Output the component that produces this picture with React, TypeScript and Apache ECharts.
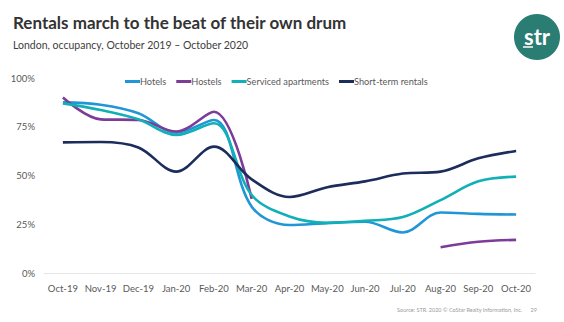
import React, { useEffect, useRef } from "react";
import * as echarts from "echarts";

const months = ["Oct-19", "Nov-19", "Dec-19", "Jan-20", "Feb-20", "Mar-20", "Apr-20", "May-20", "Jun-20", "Jul-20", "Aug-20", "Sep-20", "Oct-20"];
const hotels = [87.5, 86.3, 81.9, 72, 78.5, 34, 24.6, 25.6, 26.3, 20.8, 31, 30.3, 30];
const hostels: (number | null)[] = [90, 78.8, 78.5, 72.6, 82.7, 38, null, null, null, null, 13.2, 16, 17];
const serviced = [87, 83.6, 78.8, 70.8, 76.8, 40, 29, 25.8, 26.8, 28.7, 37.4, 47, 49.4];
const shortTerm = [67, 67.2, 64.4, 52, 64.8, 48, 39, 44, 47, 51, 52, 58.8, 62.6];
const yTicks = [0, 25, 50, 75, 100];

const FONT = "Lato, 'Open Sans', sans-serif";

export default function App() {
  const ref = useRef<HTMLDivElement>(null);
  useEffect(() => {
    if (!ref.current) return;
    const chart = echarts.init(ref.current, undefined, { renderer: "svg" });
    const mk = (name: string, data: (number | null)[], color: string) => ({
      name,
      type: "line",
      data,
      smooth: 0.35,
      showSymbol: false,
      symbol: "none",
      connectNulls: false,
      lineStyle: { color, width: 2.6 },
      itemStyle: { color },
    });
    chart.setOption({
      animation: false,
      backgroundColor: "#ffffff",
      textStyle: { fontFamily: FONT },
      title: {
        text: "Rentals march to the beat of their own drum",
        subtext: "London, occupancy, October 2019 \u2013 October 2020",
        left: 8,
        top: 9,
        itemGap: 8,
        textStyle: { fontFamily: FONT, fontSize: 17, fontWeight: "bold", color: "#333333" },
        subtextStyle: { fontFamily: FONT, fontSize: 10.5, color: "#404040" },
      },
      legend: {
        top: 72,
        left: 120,
        itemWidth: 15,
        itemHeight: 3,
        itemGap: 10,
        icon: "rect",
        textStyle: { fontFamily: FONT, fontSize: 9.2, color: "#595959", padding: [0, 0, 0, -5] },
        data: ["Hotels", "Hostels", "Serviced apartments", "Short-term rentals"],
      },
      grid: { left: 44, right: 29, top: 78, bottom: 49, containLabel: false },
      xAxis: {
        type: "category",
        data: months,
        boundaryGap: true,
        axisLine: { show: true, lineStyle: { color: "#e6e6e6", width: 1 } },
        axisTick: { show: false },
        axisLabel: { interval: 0, fontFamily: FONT, fontSize: 9.5, color: "#595959", margin: 10 },
      },
      yAxis: {
        type: "value",
        min: 0,
        max: 100,
        interval: 25,
        axisLine: { show: false },
        axisTick: { show: false },
        splitLine: { show: false },
        axisLabel: {
          fontFamily: FONT,
          fontSize: 9.5,
          color: "#595959",
          margin: 9,
          formatter: (v: number) => (yTicks.includes(v) ? v + "%" : ""),
        },
      },
      graphic: [
        { type: "circle", shape: { cx: 537, cy: 37, r: 23 }, style: { fill: "#2a7d72" } },
        {
          type: "text",
          x: 537,
          y: 36,
          style: { text: "str", fill: "#ffffff", fontFamily: FONT, fontSize: 22, fontWeight: "bold", align: "center", verticalAlign: "middle" },
        },
        { type: "line", shape: { x1: 523, y1: 47, x2: 533, y2: 47 }, style: { stroke: "#ffffff", lineWidth: 1.5 } },
        {
          type: "text",
          x: 537,
          y: 310,
          style: { text: "Source: STR. 2020 \u00a9 CoStar Realty Information, Inc.      29", fill: "#9a9a9a", fontFamily: FONT, fontSize: 5.5, align: "right", verticalAlign: "middle" },
        },
      ],
      series: [
        mk("Hotels", hotels, "#2196d6"),
        mk("Hostels", hostels, "#7d3c98"),
        mk("Serviced apartments", serviced, "#10b0b6"),
        mk("Short-term rentals", shortTerm, "#1c2d5c"),
      ],
    });
    return () => chart.dispose();
  }, []);
  return <div ref={ref} style={{ position: "fixed", left: 0, top: 0, width: 564, height: 322 }} />;
}
